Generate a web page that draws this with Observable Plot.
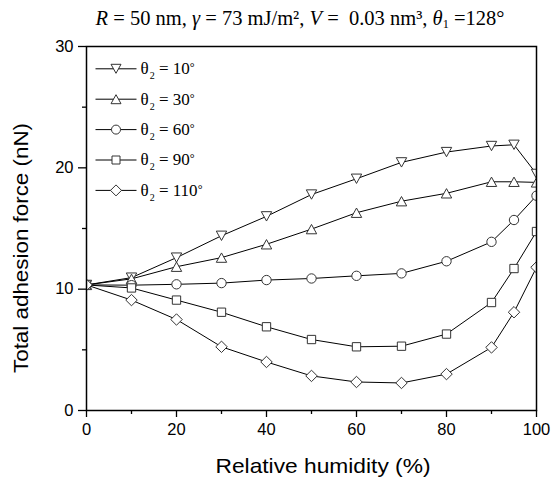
<!DOCTYPE html>
<html><head><meta charset="utf-8">
<script src="https://cdn.jsdelivr.net/npm/d3@7"></script>
<script src="https://cdn.jsdelivr.net/npm/@observablehq/plot@0.6"></script>
<style>
body{margin:0;background:#fff;}
#title{height:30px;width:554px;position:relative;font-family:"Liberation Serif",serif;font-size:20.5px;color:#000;}
#title span.t{position:absolute;left:300px;top:8px;transform:translateX(-50%);white-space:nowrap;line-height:1;}
#title sub{font-size:0.6em;vertical-align:-0.25em;line-height:0;}
</style></head><body>
<div id="title"><span class="t"><i>R</i> = 50 nm, <i>γ</i> = 73 mJ/m², <i>V</i> =&nbsp; 0.03 nm³, <i>θ</i><sub>1</sub> =128°</span></div>
<div id="chart"></div>
<script>
// ---- data ----
const humidity = [0, 10, 20, 30, 40, 50, 60, 70, 80, 90, 95, 100];
const force10  = [10.35, 10.95, 12.6, 14.4, 16.0, 17.8, 19.1, 20.45, 21.3, 21.8, 21.9, 19.5];
const force30  = [10.35, 10.85, 11.85, 12.6, 13.7, 14.95, 16.3, 17.25, 17.9, 18.85, 18.85, 18.8];
const force60  = [10.35, 10.33, 10.4, 10.5, 10.75, 10.88, 11.1, 11.3, 12.3, 13.9, 15.7, 17.7];
const force90  = [10.35, 10.1, 9.1, 8.1, 6.9, 5.85, 5.25, 5.3, 6.3, 8.9, 11.7, 14.75];
const force110 = [10.35, 9.1, 7.5, 5.25, 4.0, 2.85, 2.35, 2.27, 3.0, 5.2, 8.1, 11.8];
const seriesLabels = ["θ2 = 10°", "θ2 = 30°", "θ2 = 60°", "θ2 = 90°", "θ2 = 110°"];
const xTicks = [0, 20, 40, 60, 80, 100];
const xMinorTicks = [10, 30, 50, 70, 90];
const yTicks = [0, 10, 20, 30];
const yMinorTicks = [5, 15, 25];
const xLabel = "Relative humidity (%)";
const yLabel = "Total adhesion force (nN)";

// ---- symbols ----
const rr = s => Math.sqrt(s / Math.PI);
const symDown = {draw(c, s){const r = rr(s); c.moveTo(-r, -0.9*r); c.lineTo(r, -0.9*r); c.lineTo(0, 0.9*r); c.closePath();}};
const symUp = {draw(c, s){const r = rr(s); c.moveTo(0, -0.9*r); c.lineTo(r, 0.9*r); c.lineTo(-r, 0.9*r); c.closePath();}};
const symCircle = {draw(c, s){const r = rr(s)*0.9; c.moveTo(r, 0); c.arc(0, 0, r, 0, 2*Math.PI);}};
const symSquare = {draw(c, s){const r = rr(s)*0.8; c.rect(-r, -r, 2*r, 2*r);}};
const symDiamond = {draw(c, s){const r = rr(s)*1.1; c.moveTo(0, -r); c.lineTo(r, 0); c.lineTo(0, r); c.lineTo(-r, 0); c.closePath();}};
const symHLine = {draw(c, s){const r = rr(s)*4.1; c.moveTo(-r, 0); c.lineTo(r, 0);}};

const series = [
  {label: seriesLabels[0], values: force10, symbol: symDown},
  {label: seriesLabels[1], values: force30, symbol: symUp},
  {label: seriesLabels[2], values: force60, symbol: symCircle},
  {label: seriesLabels[3], values: force90, symbol: symSquare},
  {label: seriesLabels[4], values: force110, symbol: symDiamond}
];

const marks = [];
series.forEach(s => {
  const data = humidity.map((h, j) => ({h, f: s.values[j]}));
  marks.push(Plot.line(data, {x: "h", y: "f", stroke: "#000", strokeWidth: 1, clip: true}));
  marks.push(Plot.dot(data, {x: "h", y: "f", symbol: s.symbol, r: 5.2, fill: "#fff", stroke: "#333", strokeWidth: 1, clip: true}));
});

// legend
series.forEach((s, i) => {
  const dy = 22.3 + 30.4 * i;
  marks.push(Plot.dot([s.label], {frameAnchor: "top-left", dx: 29.5, dy, symbol: symHLine, r: 5, stroke: "#000", strokeWidth: 1}));
  marks.push(Plot.dot([s.label], {frameAnchor: "top-left", dx: 29.5, dy, symbol: s.symbol, r: 5, fill: "#fff", stroke: "#333", strokeWidth: 1}));
  marks.push(Plot.text([s.label], {frameAnchor: "top-left", dx: 54, dy, text: d => d, textAnchor: "start", lineAnchor: "middle", fontSize: 17, fontFamily: "Liberation Serif", fill: "#000"}));
});

marks.push(Plot.frame({stroke: "#000", strokeWidth: 1.5}));
marks.push(Plot.axisX(xTicks, {tickSize: 7, tickPadding: 6, fontSize: 16.5, label: null, strokeWidth: 1.3}));
marks.push(Plot.axisX(xMinorTicks, {tickSize: 4, tickFormat: () => "", label: null, strokeWidth: 1.3}));
marks.push(Plot.axisY(yTicks, {tickSize: 8, tickPadding: 5, fontSize: 16.5, label: null, strokeWidth: 1.3}));
marks.push(Plot.axisY(yMinorTicks, {tickSize: 4, tickFormat: () => "", label: null, strokeWidth: 1.3}));
marks.push(Plot.text([xLabel], {frameAnchor: "bottom", dx: 11.5, dy: 56, text: d => d, textAnchor: "middle", lineAnchor: "middle", fontSize: 21, fill: "#000"}));
marks.push(Plot.text([yLabel], {frameAnchor: "left", dx: -65.5, dy: 19.5, rotate: -90, text: d => d, textAnchor: "middle", lineAnchor: "middle", fontSize: 21, fill: "#000"}));

const chart = Plot.plot({
  width: 554, height: 453,
  marginLeft: 86, marginRight: 18, marginTop: 16, marginBottom: 73,
  x: {domain: [0, 100]},
  y: {domain: [0, 30]},
  style: {fontFamily: "Liberation Sans", fontSize: "16px", color: "#000", background: "#fff", overflow: "visible"},
  marks
});

// rich text for legend labels (subscript 2), and stretched axis titles
const NS = "http://www.w3.org/2000/svg";
chart.querySelectorAll("text").forEach(t => {
  if (t.textContent === xLabel) { t.setAttribute("textLength", 215); t.setAttribute("lengthAdjust", "spacingAndGlyphs"); return; }
  if (t.textContent === yLabel) { t.setAttribute("textLength", 250); t.setAttribute("lengthAdjust", "spacingAndGlyphs"); return; }
  const m = t.textContent.match(/^θ(\d) = (\d+)°$/);
  if (!m) return;
  t.textContent = "";
  const add = (txt, attrs = {}) => {
    const sp = document.createElementNS(NS, "tspan");
    sp.textContent = txt;
    for (const k in attrs) sp.setAttribute(k, attrs[k]);
    t.appendChild(sp);
  };
  add("θ");
  add(m[1], {dy: "5", "font-size": "10", dx: "1"});
  add(" = " + m[2], {dy: "-5"});
  add("°", {"font-size": "12", dy: "-3"});
});

document.getElementById("chart").appendChild(chart);
</script>
</body></html>
